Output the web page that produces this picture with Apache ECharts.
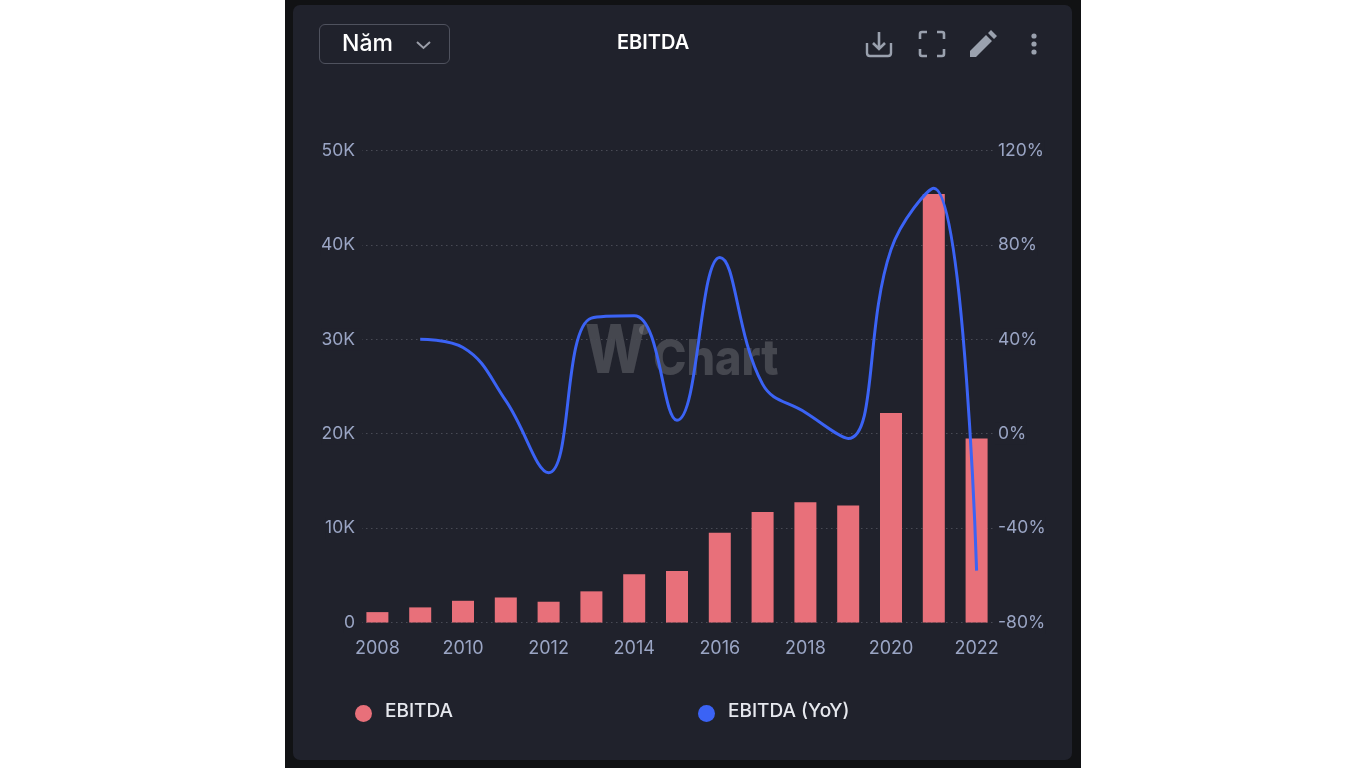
<!DOCTYPE html>
<html>
<head>
<meta charset="utf-8">
<title>EBITDA</title>
<script src="https://cdn.jsdelivr.net/npm/echarts@6/dist/echarts.min.js"></script>
<style>
  html, body { margin: 0; padding: 0; width: 1366px; height: 768px; background: #fff; overflow: hidden; font-family: Inter, sans-serif; }
  #outer { position: absolute; left: 285px; top: 0; width: 796px; height: 768px; background: #111214; }
  #card { position: absolute; left: 293px; top: 5px; width: 779px; height: 755px; background: #20222c; border-radius: 7px; }
  #report { position: absolute; left: 0; top: 0; width: 1366px; height: 768px; }
  #period { position: absolute; left: 319px; top: 24px; width: 129px; height: 38px; border: 1px solid #4f525e; border-radius: 6px; color: #fff; font-size: 23px; font-weight: 500; line-height: 36px; text-indent: 22px; }
  #period svg { position: absolute; left: 95px; top: 15px; }
  .icon { position: absolute; top: 30px; }
</style>
</head>
<body>
<div id="outer"></div>
<div id="card"></div>
<div id="report"></div>
<div id="period">Năm
  <svg width="17" height="10" viewBox="0 0 17 10"><path d="M2 2l6.5 6L15 2" fill="none" stroke="#9a9da8" stroke-width="2"/></svg>
</div>
<svg class="icon" style="left:865px" width="28" height="28" viewBox="0 0 28 28">
  <path d="M2 13v10q0 3 3 3h18q3 0 3-3V13" fill="none" stroke="#9aa1ae" stroke-width="2.4"/>
  <path d="M14 2v16M8 13l6 6 6-6" fill="none" stroke="#9aa1ae" stroke-width="2.6"/>
</svg>
<svg class="icon" style="left:918px" width="28" height="28" viewBox="0 0 28 28">
  <path d="M2 9V4q0-2 2-2h5M19 2h5q2 0 2 2v5M26 19v5q0 2-2 2h-5M9 26H4q-2 0-2-2v-5" fill="none" stroke="#9aa1ae" stroke-width="2.6"/>
</svg>
<svg class="icon" style="left:969px" width="28" height="28" viewBox="0 0 28 28">
  <path d="M1 27v-6L17 5l6 6L7 27zM19 3l3-3 6 6-3 3z" fill="#9aa1ae"/>
</svg>
<svg class="icon" style="left:1026px" width="16" height="28" viewBox="0 0 16 28">
  <circle cx="8" cy="6" r="2.6" fill="#9aa1ae"/><circle cx="8" cy="14" r="2.6" fill="#9aa1ae"/><circle cx="8" cy="22" r="2.6" fill="#9aa1ae"/>
</svg>
<script>
var years = ['2008','2009','2010','2011','2012','2013','2014','2015','2016','2017','2018','2019','2020','2021','2022'];
var ebitda = [1100,1600,2300,2650,2200,3300,5100,5450,9500,11700,12750,12400,22200,45400,19500];
var ebitdaYoy = [null,40,36.5,14,-16.5,49,50,5.7,74.7,21,9,-2,78,104,-58];
var leftTicks = ['0','10K','20K','30K','40K','50K'];
var rightTicks = ['-80%','-40%','0%','40%','80%','120%'];

var cardColor = '#20222c';
var tickStyle = { color: '#9aa5c4', fontSize: 17.5, fontFamily: 'Inter' };
var legendText = {
  rich: {
    a: { color: '#e6e8ee', fontSize: 19, fontWeight: 500, fontFamily: 'Inter', padding: [0, 0, 4, 8] }
  }
};

var myChart = echarts.init(document.getElementById('report'));

var option = {
  backgroundColor: 'transparent',
  animation: false,
  title: {
    text: 'EBITDA',
    left: 612,
    top: 28,
    textStyle: { color: '#fff', fontSize: 20, fontWeight: 600, fontFamily: 'Inter' }
  },
  graphic: [
    { type: 'text', x: 585, y: 319, scaleX: 0.85, z: 0, silent: true,
      style: { text: 'W', fill: 'rgba(255,255,255,0.17)', font: '800 68px Inter' } },
    { type: 'circle', left: 639, top: 325, z: 0, silent: true,
      shape: { r: 5 }, style: { fill: 'rgba(255,255,255,0.17)' } },
    { type: 'text', x: 653, y: 335, scaleX: 0.9, z: 0, silent: true,
      style: { text: 'Chart', fill: 'rgba(255,255,255,0.17)', font: '800 50px Inter' } }
  ],
  legend: [
    { data: ['EBITDA'], left: 350, top: 697, icon: 'circle', itemWidth: 17, itemHeight: 17, itemGap: 0, formatter: '{a|{name}}', textStyle: legendText },
    { data: ['EBITDA (YoY)'], left: 693, top: 697, icon: 'circle', itemWidth: 17, itemHeight: 17, itemGap: 0, formatter: '{a|{name}}', textStyle: legendText }
  ],
  grid: { left: 356, right: 368, top: 150.5, bottom: 145.5 },
  xAxis: {
    type: 'category',
    data: years,
    axisLine: { show: false },
    axisTick: { show: false },
    axisLabel: Object.assign({ interval: 1, margin: 17 }, tickStyle, { fontSize: 18 })
  },
  yAxis: [
    {
      type: 'value',
      min: 0,
      max: 50000,
      interval: 10000,
      axisLabel: Object.assign({
        margin: -6,
        padding: [4, 7, 0, 0],
        backgroundColor: cardColor,
        formatter: function (v) { return leftTicks[v / 10000]; }
      }, tickStyle),
      splitLine: { lineStyle: { color: '#484a55', type: [1.5, 3.5], width: 1 } }
    },
    {
      type: 'value',
      min: -80,
      max: 120,
      interval: 40,
      axisLabel: Object.assign({
        margin: -3,
        padding: [4, 0, 0, 3],
        backgroundColor: cardColor,
        formatter: function (v) { return rightTicks[(v + 80) / 40]; }
      }, tickStyle),
      splitLine: { show: false }
    }
  ],
  series: [
    {
      name: 'EBITDA',
      type: 'bar',
      barWidth: 22,
      itemStyle: { color: '#e8707a' },
      data: ebitda
    },
    {
      name: 'EBITDA (YoY)',
      type: 'line',
      yAxisIndex: 1,
      smooth: 0.42,
      showSymbol: false,
      itemStyle: { color: '#3b63f5' },
      lineStyle: { color: '#3b63f5', width: 3 },
      data: ebitdaYoy
    }
  ]
};

myChart.setOption(option);
</script>
</body>
</html>
